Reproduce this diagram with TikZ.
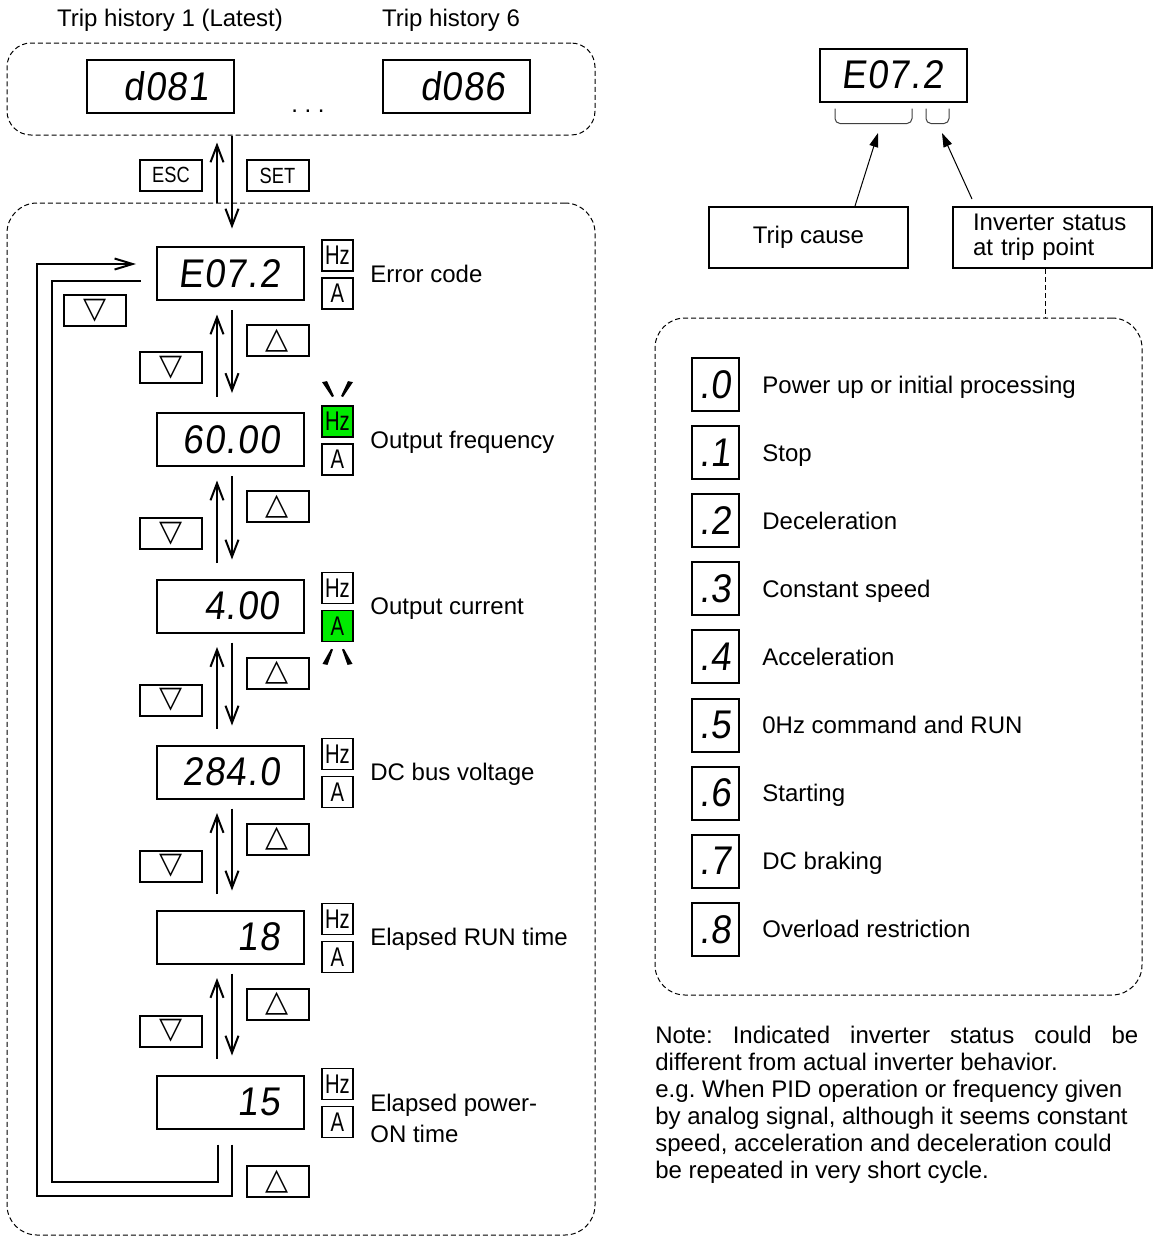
\documentclass[tikz,border=0pt]{standalone}
\usepackage{fontspec}
\setmainfont{Liberation Sans}
\newfontfamily\segfont[FakeSlant=0.12,FakeStretch=0.92,LetterSpace=3]{Liberation Sans}
\newfontfamily\narrowfont[FakeStretch=0.75]{Liberation Sans}
\newfontfamily\keyfont[FakeStretch=0.83]{Liberation Sans}
\newfontfamily\symfont{DejaVu Sans}
\usetikzlibrary{arrows.meta,calc}
\frenchspacing

\definecolor{lit}{RGB}{0,235,0}
% 7-segment style readouts, right aligned in the display window
\newcommand{\seg}[1]{{\segfont\fontsize{20pt}{20pt}\selectfont\makebox[49pt][r]{#1}}}
\newcommand{\stcode}[1]{{\segfont\fontsize{20pt}{20pt}\selectfont #1}}
\newcommand{\tri}[1]{{\symfont\fontsize{15pt}{15pt}\selectfont #1}}

\begin{document}
\begin{tikzpicture}[x=0.5pt,y=-0.5pt,
   every node/.style={font=\fontsize{12pt}{14pt}\selectfont},
   disp/.style={draw,line width=1pt,minimum width=73.5pt,minimum height=26.5pt,inner sep=0pt},
   stbox/.style={draw,line width=1pt,minimum width=23.5pt,minimum height=26.5pt,inner sep=0pt},
   unit/.style={draw,line width=0.9pt,minimum width=15.5pt,minimum height=15.5pt,inner sep=0pt,
                font=\narrowfont\fontsize{13.5pt}{13.5pt}\selectfont},
   keybox/.style={draw,line width=1pt,minimum width=31pt,minimum height=15.5pt,inner sep=0pt},
   txtkey/.style={keybox,font=\keyfont\fontsize{11pt}{11pt}\selectfont},
   tbox/.style={draw,line width=1pt,minimum width=99.5pt,minimum height=30.5pt,inner sep=0pt},
   dashbox/.style={draw,line width=0.5pt,dash pattern=on 2.5pt off 1.5pt,inner sep=0pt},
   lbl/.style={inner sep=0pt,anchor=base west},
   arr/.style={line width=1pt,-{Straight Barb[length=8.5pt,width=6.5pt]}},
   loopline/.style={line width=1pt},
   thinarr/.style={line width=0.5pt,-{Triangle[length=7pt,width=4.5pt]}},
   brk/.style={line width=0.5pt,black!75,rounded corners=2.5pt}
]
\useasboundingbox (0,0) rectangle (1156,1239);

% =========== trip history monitors ============
\node[anchor=base] (th1) at (170,26.5) {Trip history 1 (Latest)};
\node[anchor=base] (th6) at (451,26.5) {Trip history 6};
\node[dashbox,minimum width=294pt,minimum height=46pt,rounded corners=12pt] (hist) at (301,89) {};
\node[disp] (h1) at (160,86) {\seg{d081}};
\node[disp] (h6) at (456.5,86) {\seg{d086}};
\node[inner sep=0pt] (dots) at (308,111) {. . .};

\node[dashbox,minimum width=294pt,minimum height=516pt,rounded corners=15pt] (menu) at (301,719) {};

% =========== monitor items ============
\foreach \i/\cy/\val/\hzc/\ac in {1/273.5/E07.2/white/white, 2/439.5/60.00/lit/white,
      3/606/4.00/white/lit, 4/772/284.0/white/white, 5/937/18/white/white, 6/1102/15/white/white} {
  \node[disp] (d\i) at (230.5,\cy) {\seg{\val}};
  \node[unit,fill=\hzc] (hz\i) at ($(d\i.center)+(107,-18)$) {Hz};
  \node[unit,fill=\ac] (a\i) at ($(d\i.center)+(107,20)$) {A};
}
\foreach \i/\txt in {1/Error code, 2/Output frequency, 3/Output current,
      4/DC bus voltage, 5/Elapsed RUN time} {
  \node[lbl] (l\i) at ($(d\i.east)+(65,8.5)$) {\txt};
}
\node[inner sep=0pt,anchor=west,align=left,font=\fontsize{12pt}{15.25pt}\selectfont] (l6)
   at ($(d6.east)+(65,16.5)$) {Elapsed power-\\ON time};

% up / down between items
\foreach \i/\j in {1/2,2/3,3/4,4/5,5/6} {
  \draw[arr] ($(d\j.north)+(-13.5,-15.5)$) -- ($(d\i.south)+(-13.5,13.5)$);
  \draw[arr] ($(d\i.south)+(1.5,9)$) -- ($(d\j.north)+(1.5,-19)$);
  \node[keybox] (up\i) at ($(d\i.center)+(47,67)$) {\tri{△}};
  \node[keybox] (dn\i) at ($(d\i.center)+(-59.5,94)$) {\tri{▽}};
}

% blinking unit lamps
\begin{scope}[shift={(hz2.north)}]
  \foreach \s in {1,-1}
    \fill[xscale=\s] (-15.5,-23) -- (-10.5,-24) -- (-3.5,-9) -- (-5.5,-8) -- cycle;
\end{scope}
\begin{scope}[shift={(a3.south)}]
  \foreach \s in {1,-1}
    \fill[xscale=\s] (-15,21.5) -- (-10,22.5) -- (-4.5,7) -- (-6.5,6.5) -- cycle;
\end{scope}

% wrap-around from last item back to the first
\coordinate (railO) at (37,1196);
\coordinate (railI) at (52,1182);
\draw[loopline,-{Straight Barb[length=9pt,width=5.5pt]}]
  ($(d6.south)+(1.5,15)$) |- (railO) |- ($(d1.west)+(-20,-9.5)$);
\draw[loopline] ($(d6.south)+(-12.5,15)$) |- (railI) |- ($(d1.west)+(-15,7.5)$);
\node[keybox] (dnloop) at ($(d1.center)+(-135.5,37)$) {\tri{▽}};
\node[keybox] (upend) at ($(d6.center)+(47,79.5)$) {\tri{△}};

% ESC / SET between history and monitor
\coordinate (escx) at ($(d1.north)+(-13.5,0)$);
\coordinate (setx) at ($(d1.north)+(1.5,0)$);
\draw[arr,shorten >=3.5pt] (escx |- menu.north) -- (escx |- hist.south);
\draw[arr] (setx |- hist.south) -- ($(d1.north)+(1.5,-17.5)$);
\node[txtkey] (esc) at (171,175) {ESC};
\node[txtkey] (set) at (277.5,175.5) {SET};

% =========== explanation of the error code ============
\node[disp] (rd) at (893.5,75) {\seg{E07.2}};
\draw[brk] ($(rd.south)+(-58.5,6)$) -- ++(0,15) -- ++(77,0) -- ++(0,-15);
\draw[brk] ($(rd.south)+(32.5,6)$) -- ++(0,15) -- ++(23,0) -- ++(0,-15);

\node[tbox] (trip) at (808.5,237.5) {Trip cause};
\node[tbox,align=left,text width=79.5pt,inner xsep=10pt,
      font=\fontsize{12pt}{12.5pt}\selectfont] (invst) at (1052.5,237.5)
   {Inverter status\\at trip point};
\coordinate (tip1) at (878,133);
\coordinate (tip2) at (942,133);
\draw[thinarr] ($(trip.north)+(46.5,0)$) -- (tip1);
\draw[thinarr] ($(invst.north)+(-80.5,-7)$) -- (tip2);

\node[dashbox,minimum width=243.5pt,minimum height=338.5pt,rounded corners=15pt] (stat) at (898.5,656.5) {};
\coordinate (isd) at ($(invst.south)+(-7.5,0)$);
\draw[line width=0.5pt,dash pattern=on 2.5pt off 1.5pt] (isd) -- (isd |- stat.north);

\foreach \k/\code/\txt in {0/.0/Power up or initial processing, 1/.1/Stop, 2/.2/Deceleration,
      3/.3/Constant speed, 4/.4/Acceleration, 5/.5/0Hz command and RUN, 6/.6/Starting,
      7/.7/DC braking, 8/.8/Overload restriction} {
  \node[stbox] (s\k) at (715.5,{384.5+68.1*\k}) {\stcode{\code}};
  \node[lbl] (t\k) at ($(s\k.east)+(22,8.5)$) {\txt};
}

\node[anchor=north west,inner sep=0pt,align=left,font=\fontsize{12pt}{13.5pt}\selectfont] (note)
   at (655,1026)
   {\makebox[241.5pt][s]{Note: Indicated inverter status could be}\\
    different from actual inverter behavior.\\
    e.g. When PID operation or frequency given\\
    by analog signal, although it seems constant\\
    speed, acceleration and deceleration could\\
    be repeated in very short cycle.};

\end{tikzpicture}
\end{document}
